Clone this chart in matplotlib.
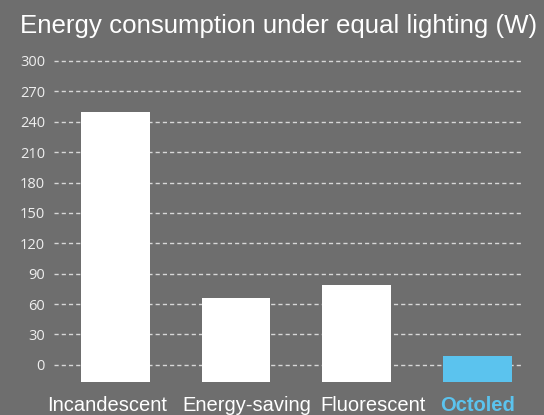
import matplotlib
matplotlib.use("Agg")
import matplotlib.pyplot as plt
from matplotlib.transforms import blended_transform_factory

categories = ["Incandescent", "Energy-saving", "Fluorescent", "Octoled"]
values = [250, 66, 79, 9]
yticks = [0, 30, 60, 90, 120, 150, 180, 210, 240, 270, 300]
baseline = -17
label_x = [-0.07, 1.09, 2.14, 3.00]

bg = "#6e6e6e"
blue = "#5bc3ee"
colors = ["white", "white", "white", blue]

fig = plt.figure(figsize=(5.44, 4.15), dpi=100, facecolor=bg)
ax = fig.add_axes([54/544, 1-382/415, 469/544, (382-61)/415])
ax.set_facecolor(bg)

x = list(range(len(categories)))
heights = [v - baseline for v in values]
ax.bar(x, heights, bottom=baseline, width=0.57, color=colors, zorder=3)

for t in yticks:
    ax.axhline(t, color="#d8d8d8", lw=1.0, ls=(0, (3, 2.2)), zorder=1, clip_on=False)

ax.set_xlim(-0.51, 3.38)
ax.set_ylim(baseline, 300)
ax.set_yticks(yticks)
ax.set_yticklabels([str(t) for t in yticks], fontsize=10.5, color="#eeeeee", family="Open Sans")
ax.tick_params(axis="y", length=0, pad=6.5)
ax.set_xticks([])
for s in ax.spines.values():
    s.set_visible(False)

trans = blended_transform_factory(ax.transData, fig.transFigure)
for i, (lx, name) in enumerate(zip(label_x, categories)):
    last = i == len(categories) - 1
    ax.text(lx, 1-411/415, name, transform=trans, ha="center", va="baseline",
            fontsize=14.5, color=blue if last else "white",
            fontweight="bold" if last else "normal", family="Liberation Sans")

fig.text(20/544, 1-33/415, "Energy consumption under equal lighting (W)", fontsize=18.6,
         color="white", family="Liberation Sans", ha="left", va="baseline")

fig.savefig("out.png", dpi=100, facecolor=bg)
